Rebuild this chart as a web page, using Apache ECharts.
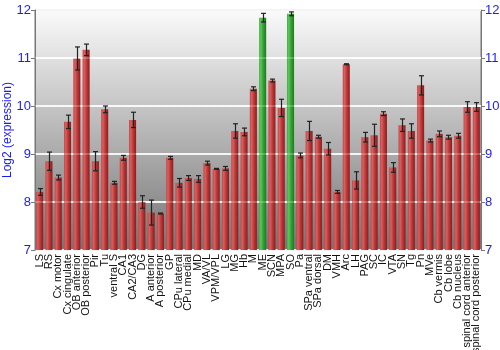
<!DOCTYPE html>
<html><head><meta charset="utf-8">
<script src="https://cdn.jsdelivr.net/npm/echarts@6/dist/echarts.min.js"></script>
<style>html,body{margin:0;padding:0;background:#fff}#c{width:500px;height:350px}</style>
</head><body><div id="c"></div>
<script>
const categories = ["LS","RS","Cx motor","Cx cingulate","OB anterior","OB posterior","Pir","Tu","ventral S","CA1","CA2/CA3","DG","A anterior","A posterior","GP","CPu lateral","CPu medial","MD","VA/VL","VPM/VPL","LG","MG","Hb","M","ME","SCN","MPA","SO","Pa","SPa ventral","SPa dorsal","DM","VMH","Arc","LH","PAG","SC","IC","VTA","SN","Tg","Pn","MVe","Cb vermis","Cb lobe","Cb nucleus","spinal cord anterior","spinal cord posterior"];
const values = [8.21,8.85,8.51,9.67,10.99,11.17,8.85,9.93,8.40,8.92,9.71,8.00,7.78,7.76,8.92,8.40,8.50,8.48,8.81,8.69,8.70,9.48,9.46,10.36,11.84,10.53,9.96,11.92,8.97,9.48,9.36,9.11,8.21,10.87,8.45,9.35,9.39,9.84,8.72,9.60,9.48,10.43,9.28,9.42,9.35,9.38,9.98,9.98];
const errors = [0.07,0.19,0.05,0.14,0.24,0.12,0.2,0.07,0.03,0.05,0.16,0.13,0.26,0.01,0.03,0.09,0.05,0.07,0.04,0.01,0.04,0.15,0.08,0.04,0.09,0.03,0.18,0.04,0.05,0.2,0.03,0.13,0.03,0.01,0.18,0.1,0.23,0.04,0.1,0.13,0.15,0.2,0.03,0.06,0.04,0.05,0.11,0.09];
const highlighted = ["ME","SO"];
const yTicks = [7,8,9,10,11,12];

const redGrad = {type:'linear',x:0,y:0,x2:1,y2:0,colorStops:[{offset:0,color:'#c94444'},{offset:0.25,color:'#d86060'},{offset:0.55,color:'#c03a3a'},{offset:1,color:'#8a1c1c'}]};
const greenGrad = {type:'linear',x:0,y:0,x2:1,y2:0,colorStops:[{offset:0,color:'#3fae3f'},{offset:0.25,color:'#5cc65a'},{offset:0.55,color:'#36a336'},{offset:1,color:'#1f7a1f'}]};

const barData = values.map((v,i)=>({value:v,itemStyle:{color: highlighted.includes(categories[i]) ? greenGrad : redGrad}}));
const errData = values.map((v,i)=>[i, v-errors[i], v+errors[i]]);

const yCommon = {type:'value',min:7,max:12,interval:1,
  axisLine:{show:true,lineStyle:{color:'#777'}},
  axisTick:{show:true,length:4,lineStyle:{color:'#777'}},
  axisLabel:{color:'#1a1aff',fontSize:13,fontFamily:'Liberation Sans',margin:4}};

const chart = echarts.init(document.getElementById('c'));
chart.setOption({
  animation:false,
  grid:{left:35,right:19,top:10,bottom:100,containLabel:false,outerBoundsMode:'none',show:true,borderColor:'#777',borderWidth:1,
    backgroundColor:{type:'linear',x:0,y:0,x2:0,y2:1,colorStops:[{offset:0,color:'#fbfbfb'},{offset:1,color:'#747474'}]}},
  xAxis:{type:'category',data:categories,
    axisLine:{show:false},axisTick:{show:false},
    axisLabel:{rotate:90,interval:0,fontSize:11,fontFamily:'Liberation Sans',color:'#111',margin:4}},
  yAxis:[Object.assign({},yCommon,{position:'left',name:'Log2 (expression)',nameLocation:'middle',nameGap:21,nameMoveOverlap:false,
      nameTextStyle:{color:'#1a1aff',fontSize:12,fontFamily:'Liberation Sans'},
      splitLine:{show:true,lineStyle:{color:'rgba(255,255,255,0.85)',width:2}}}),
    Object.assign({},yCommon,{position:'right',splitLine:{show:false}})],
  series:[
    {type:'bar',data:barData,barCategoryGap:'24%',yAxisIndex:0,
     markLine:{silent:true,symbol:'none',label:{show:false},
       lineStyle:{color:'rgba(255,255,255,0.3)',width:1.5,type:'solid'},
       data:yTicks.slice(1,-1).map(t=>({yAxis:t}))}},
    {type:'custom',yAxisIndex:0,data:errData,z:5,
     renderItem:function(params,api){
       const lo=api.coord([api.value(0),api.value(1)]);
       const hi=api.coord([api.value(0),api.value(2)]);
       const cx=Math.round(lo[0])+0.5, w=2.5;
       return {type:'group',children:[
         {type:'line',shape:{x1:cx,y1:lo[1],x2:cx,y2:hi[1]},style:{stroke:'#222',lineWidth:1.2}},
         {type:'line',shape:{x1:cx-w,y1:lo[1],x2:cx+w,y2:lo[1]},style:{stroke:'#222',lineWidth:1.2}},
         {type:'line',shape:{x1:cx-w,y1:hi[1],x2:cx+w,y2:hi[1]},style:{stroke:'#222',lineWidth:1.2}}
       ]};
     }}
  ]
});
</script></body></html>
